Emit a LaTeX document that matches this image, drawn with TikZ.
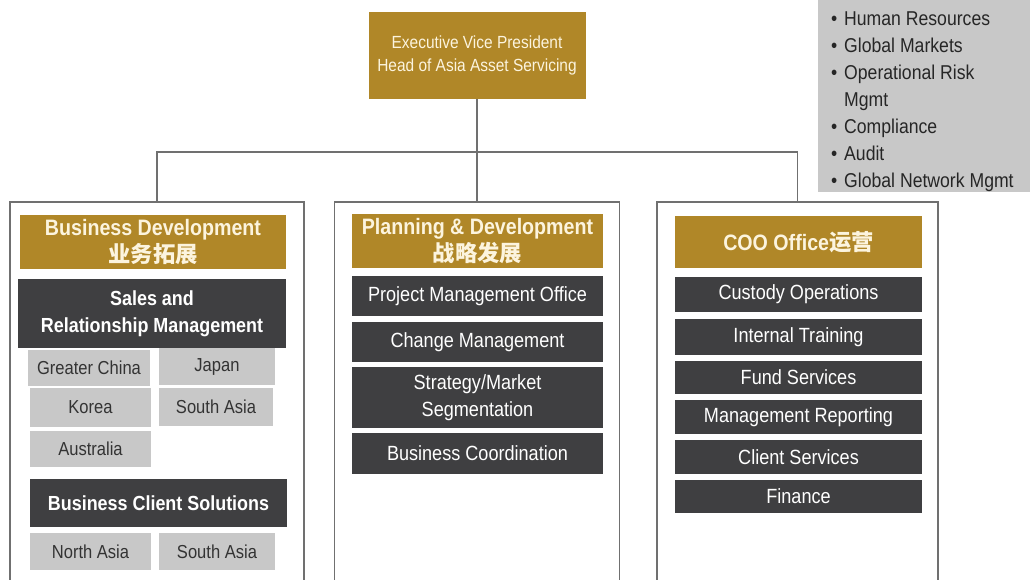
\documentclass[tikz,border=0pt]{standalone}
\usepackage{fontspec}
\setmainfont{Liberation Sans}[FakeStretch=0.88]
\newfontfamily\cjk{Noto Sans CJK SC}
\usepackage{tikz}
\newcommand\px{0.02cm}
\definecolor{gold}{RGB}{176,135,40}
\definecolor{slate}{RGB}{63,63,65}
\definecolor{pale}{RGB}{200,200,200}
\definecolor{frame}{RGB}{112,112,112}
\definecolor{cream}{RGB}{252,244,222}
\tikzset{
  boxsize/.style 2 args={minimum width=#1*\px, minimum height=#2*\px},
  cell/.style={inner sep=0pt, outer sep=0pt, align=center},
  topbox/.style={cell, fill=gold, text=cream, font=\fontsize{10}{13}\selectfont},
  goldbox/.style={cell, fill=gold, text=cream, font=\bfseries\fontsize{12.7}{15.3}\selectfont},
  darkbox/.style={cell, fill=slate, text=white, font=\fontsize{11.7}{15.3}\selectfont},
  headbox/.style={darkbox, font=\bfseries\fontsize{11.6}{15.3}\selectfont},
  greybox/.style={cell, fill=pale, text=black!80, font=\fontsize{10.7}{13}\selectfont},
  listtext/.style={cell, align=left, text=black!85, font=\fontsize{11.4}{15.3}\selectfont},
  panel/.style={cell, draw=frame, line width=1.1pt, fill=white},
  link/.style={draw=frame, line width=1.1pt}
}

\begin{document}
\begin{tikzpicture}[x=\px, y=-\px]
  \useasboundingbox (0,0) rectangle (1030,579);
  % Head
  \node[topbox, boxsize={217}{87}] (evp) at (477,55.5)
    {Executive Vice President\\Head of Asia Asset Servicing};
  % Support functions
  \fill[pale] (818,-5) rectangle (1035,192);
  \node[listtext, anchor=north west] (support) at (831,12)
    {\textbullet\hspace{4pt}Human Resources\\
     \textbullet\hspace{4pt}Global Markets\\
     \textbullet\hspace{4pt}Operational Risk\\
     \phantom{\textbullet\hspace{4pt}}Mgmt\\
     \textbullet\hspace{4pt}Compliance\\
     \textbullet\hspace{4pt}Audit\\
     \textbullet\hspace{4pt}Global Network Mgmt};
  % Panels
  \node[panel, boxsize={294}{388}] (bdpanel) at (157,396) {};
  \node[panel, boxsize={285}{388}] (pdpanel) at (477,396) {};
  \node[panel, boxsize={281}{388}] (coopanel) at (797.5,396) {};
  \coordinate (bus) at (477,152);
  \draw[link] (evp.south) -- (bus);
  \draw[link] (bus) -- (pdpanel.north);
  \draw[link] (bus) -| (bdpanel.north);
  \draw[link] (bus) -| (coopanel.north);
  % Business Development
  \node[goldbox, boxsize={266}{54}] (bdhead) at (153,242)
    {Business Development\\{\cjk 业务拓展}};
  \node[headbox, boxsize={268}{69}] (salesrm) at (152,313.5)
    {Sales and\\Relationship Management};
  \node[greybox, boxsize={122}{36}] (gchina) at (89,368) {Greater China};
  \node[greybox, boxsize={116}{37}] (japan) at (217,366.5) {Japan};
  \node[greybox, boxsize={121}{39}] (korea) at (90.5,407.5) {Korea};
  \node[greybox, boxsize={114}{38}] (sasiarm) at (216,407) {South Asia};
  \node[greybox, boxsize={121}{36}] (australia) at (90.5,449) {Australia};
  \node[headbox, boxsize={257}{48}] (bcs) at (158.5,503) {Business Client Solutions};
  \node[greybox, boxsize={121}{37}] (nasia) at (90.5,551.5) {North Asia};
  \node[greybox, boxsize={116}{37}] (sasiabcs) at (217,551.5) {South Asia};
  % Planning & Development
  \node[goldbox, boxsize={251}{54}] (pdhead) at (477.5,241)
    {Planning \& Development\\{\cjk 战略发展}};
  \node[darkbox, boxsize={251}{40}] (pmo) at (477.5,296) {Project Management Office};
  \node[darkbox, boxsize={251}{40}] (change) at (477.5,342) {Change Management};
  \node[darkbox, boxsize={251}{61}] (strategy) at (477.5,397.5)
    {Strategy/Market\\Segmentation};
  \node[darkbox, boxsize={251}{41}] (coord) at (477.5,453.5) {Business Coordination};
  % COO Office
  \node[goldbox, boxsize={247}{52}] (coohead) at (798.5,242) {COO Office{\cjk 运营}};
  \node[darkbox, boxsize={247}{35}] (custody) at (798.5,294.5) {Custody Operations};
  \node[darkbox, boxsize={247}{36}] (training) at (798.5,337) {Internal Training};
  \node[darkbox, boxsize={247}{33}] (fund) at (798.5,377.5) {Fund Services};
  \node[darkbox, boxsize={247}{34}] (mgmtrep) at (798.5,417) {Management Reporting};
  \node[darkbox, boxsize={247}{34}] (client) at (798.5,457) {Client Services};
  \node[darkbox, boxsize={247}{33}] (finance) at (798.5,496.5) {Finance};
\end{tikzpicture}
\end{document}
